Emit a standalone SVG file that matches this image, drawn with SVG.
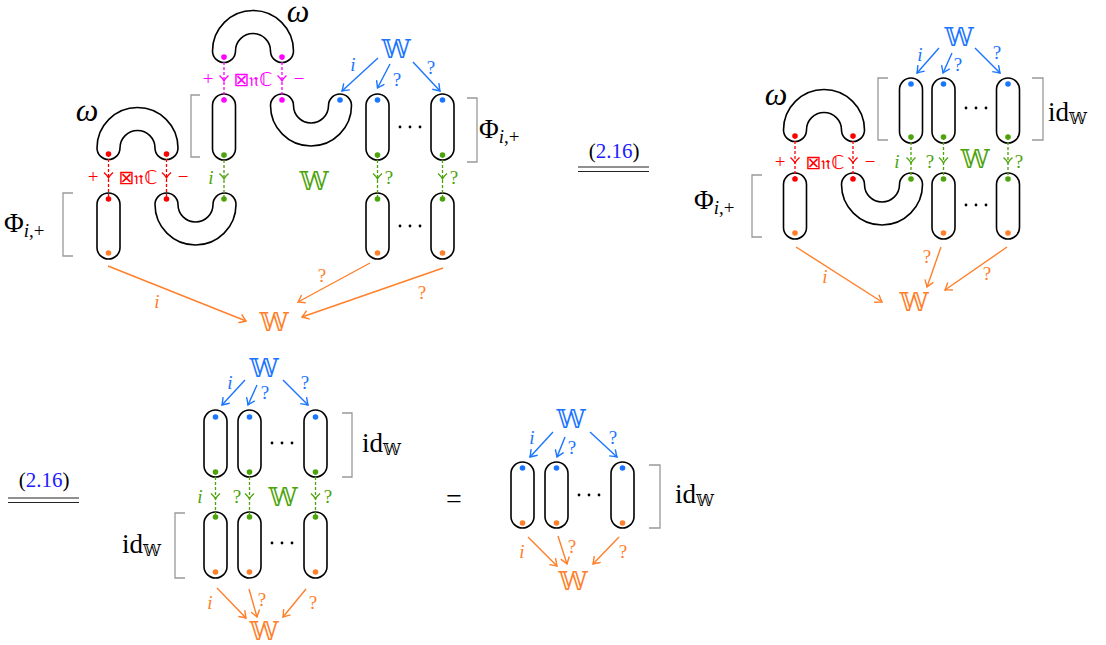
<svg xmlns="http://www.w3.org/2000/svg" width="1106" height="645" viewBox="0 0 1106 645">
<style>
.p{fill:none;stroke:#000;stroke-width:1.6}
.br{fill:none;stroke:#999;stroke-width:1.3}
.ab{fill:none;stroke:#1a75ff;stroke-width:1.4}
.ao{fill:none;stroke:#ff7f2a;stroke-width:1.4}
.dm{fill:none;stroke:#f0f;stroke-width:1.3;stroke-dasharray:3 2}
.dr{fill:none;stroke:#f00;stroke-width:1.3;stroke-dasharray:3 2}
.dg{fill:none;stroke:#4ca30a;stroke-width:1.3;stroke-dasharray:3 2}
.cm{stroke:#f0f;stroke-width:1.3;fill:none}
.cr{stroke:#f00;stroke-width:1.3;fill:none}
.cg{stroke:#4ca30a;stroke-width:1.3;fill:none}
.kb{fill:#1a75ff}.km{fill:#f0f}.kr{fill:#f00}.kg{fill:#4ca30a}.ko{fill:#ff7f2a}.kk{fill:#000}
.t{font-family:"Liberation Serif","DejaVu Serif",serif}
.it{font-family:"Liberation Serif","DejaVu Serif",serif;font-style:italic}
.bb{font-family:"DejaVu Sans","DejaVu Serif",sans-serif;font-weight:200}
.bx{font-family:"DejaVu Sans","DejaVu Serif",sans-serif;font-weight:normal;font-size:19px;text-anchor:middle}
.s{font-size:19px;text-anchor:middle}
.W{font-size:26px;text-anchor:middle}
.om{font-family:"Liberation Serif","DejaVu Serif",serif;font-style:italic;font-size:32px;text-anchor:middle}
</style>
<defs>
<marker id="mb" viewBox="-8 -5 10 10" refX="0" refY="0" markerWidth="10" markerHeight="10" markerUnits="userSpaceOnUse" orient="auto"><path d="M-6.5-4.5Q-2-1.2 0 0Q-2 1.2-6.5 4.5" fill="none" stroke="#1a75ff" stroke-width="1.4"/></marker>
<marker id="mo" viewBox="-8 -5 10 10" refX="0" refY="0" markerWidth="10" markerHeight="10" markerUnits="userSpaceOnUse" orient="auto"><path d="M-6.5-4.5Q-2-1.2 0 0Q-2 1.2-6.5 4.5" fill="none" stroke="#ff7f2a" stroke-width="1.4"/></marker>
<path id="chev" d="M-4.5-4.5Q-1.2-1.5 0 1Q1.2-1.5 4.5-4.5"/>
</defs>

<!-- ===== Panel 1 ===== -->
<g id="p1-cap-magenta"><path class="p" d="M212.5 51A40.5 40.5 0 0 1 293.5 51A11.5 11.5 0 0 1 270.5 51A17.5 17.5 0 0 0 235.5 51A11.5 11.5 0 0 1 212.5 51Z"/><circle class="km" cx="224" cy="57" r="2.8"/><circle class="km" cx="282" cy="57" r="2.8"/><text class="om" x="298" y="22">ω</text></g>
<g id="p1-cap-red"><path class="p" d="M97 148A40.5 40.5 0 0 1 178 148A11.5 11.5 0 0 1 155 148A17.5 17.5 0 0 0 120 148A11.5 11.5 0 0 1 97 148Z"/><circle class="kr" cx="108.5" cy="154" r="2.8"/><circle class="kr" cx="166.5" cy="154" r="2.8"/><text class="om" x="87" y="121">ω</text></g>
<g id="p1-pill-u1"><rect class="p" x="212.5" y="94" width="23" height="66" rx="11.5"/><circle class="km" cx="224" cy="100" r="2.8"/><circle class="kg" cx="224" cy="155" r="2.8"/></g>
<g id="p1-cup-u"><path class="p" d="M270.5 105.5A40.5 40.5 0 0 0 351.5 105.5A11.5 11.5 0 0 0 328.5 105.5A17.5 17.5 0 0 1 293.5 105.5A11.5 11.5 0 0 0 270.5 105.5Z"/><circle class="km" cx="282" cy="100" r="2.8"/><circle class="kb" cx="340" cy="100" r="2.8"/></g>
<g id="p1-pill-u2"><rect class="p" x="366" y="94" width="23" height="66" rx="11.5"/><circle class="kb" cx="377.5" cy="100" r="2.8"/><circle class="kg" cx="377.5" cy="155" r="2.8"/></g>
<g id="p1-pill-u3"><rect class="p" x="431" y="94" width="23" height="66" rx="11.5"/><circle class="kb" cx="442.5" cy="100" r="2.8"/><circle class="kg" cx="442.5" cy="155" r="2.8"/></g>
<g id="p1-dots-u"><circle class="kk" cx="400" cy="127" r="1.4"/><circle class="kk" cx="410" cy="127" r="1.4"/><circle class="kk" cx="420" cy="127" r="1.4"/></g>
<g id="p1-pill-l1"><rect class="p" x="97" y="193" width="23" height="66" rx="11.5"/><circle class="kr" cx="108.5" cy="199" r="2.8"/><circle class="ko" cx="108.5" cy="253" r="2.8"/></g>
<g id="p1-cup-l"><path class="p" d="M155 204.5A40.5 40.5 0 0 0 236 204.5A11.5 11.5 0 0 0 213 204.5A17.5 17.5 0 0 1 178 204.5A11.5 11.5 0 0 0 155 204.5Z"/><circle class="kr" cx="166.5" cy="199" r="2.8"/><circle class="kg" cx="224" cy="199" r="2.8"/></g>
<g id="p1-pill-l2"><rect class="p" x="366" y="193" width="23" height="66" rx="11.5"/><circle class="kg" cx="377.5" cy="199" r="2.8"/><circle class="ko" cx="377.5" cy="253" r="2.8"/></g>
<g id="p1-pill-l3"><rect class="p" x="431" y="193" width="23" height="66" rx="11.5"/><circle class="kg" cx="442.5" cy="199" r="2.8"/><circle class="ko" cx="442.5" cy="253" r="2.8"/></g>
<g id="p1-dots-l"><circle class="kk" cx="400" cy="226" r="1.4"/><circle class="kk" cx="410" cy="226" r="1.4"/><circle class="kk" cx="420" cy="226" r="1.4"/></g>
<g id="p1-brackets"><path class="br" d="M200 95H191V157H200"/><path class="br" d="M73 193H63V256H73"/><path class="br" d="M467 98H477V162H467"/></g>
<g id="p1-phi-left"><text class="t" x="4" y="232" font-size="27">Φ<tspan class="it" font-size="19" dy="5">i</tspan><tspan font-size="19">,+</tspan></text></g>
<g id="p1-phi-right"><text class="t" x="479" y="138" font-size="27">Φ<tspan class="it" font-size="19" dy="5">i</tspan><tspan font-size="19">,+</tspan></text></g>
<g id="p1-W-blue"><text class="bb W kb" x="396" y="57.5">𝕎</text></g>
<g id="p1-W-green"><text class="bb W kg" x="314" y="189.5">𝕎</text></g>
<g id="p1-W-orange"><text class="bb W ko" x="274" y="331">𝕎</text></g>
<g id="p1-labels">
<text class="t s km" x="208" y="85">+</text><text class="bx km" x="253" y="86">⊠𝔫ℂ</text><text class="t s km" x="299" y="85">−</text>
<text class="t s kr" x="93" y="183">+</text><text class="bx kr" x="138" y="184">⊠𝔫ℂ</text><text class="t s kr" x="183" y="183">−</text>
<text class="it s kg" x="211" y="184">i</text><text class="t s kg" x="389" y="184">?</text><text class="t s kg" x="454" y="184">?</text>
<text class="it s kb" x="353" y="71">i</text><text class="t s kb" x="397" y="86">?</text><text class="t s kb" x="431" y="74">?</text>
<text class="it s ko" x="157" y="308">i</text><text class="t s ko" x="322" y="282">?</text><text class="t s ko" x="422" y="299">?</text>
</g>

<!-- ===== (2.16) top ===== -->
<g id="eq1"><text class="t" x="614" y="158" font-size="21" text-anchor="middle">(<tspan fill="#2020ff">2.16</tspan>)</text><path d="M578 167H649M578 171.5H649" stroke="#222" stroke-width="1.2"/></g>

<!-- ===== Panel 2 ===== -->
<g id="p2-cap"><path class="p" d="M783.5 130A40.5 40.5 0 0 1 864.5 130A11.5 11.5 0 0 1 841.5 130A17.5 17.5 0 0 0 806.5 130A11.5 11.5 0 0 1 783.5 130Z"/><circle class="kr" cx="795" cy="136" r="2.8"/><circle class="kr" cx="853" cy="136" r="2.8"/><text class="om" x="776" y="105">ω</text></g>
<g id="p2-pill-u1"><rect class="p" x="899.5" y="78" width="23" height="65" rx="11.5"/><circle class="kb" cx="911" cy="84" r="2.8"/><circle class="kg" cx="911" cy="137" r="2.8"/></g>
<g id="p2-pill-u2"><rect class="p" x="932" y="78" width="23" height="65" rx="11.5"/><circle class="kb" cx="943.5" cy="84" r="2.8"/><circle class="kg" cx="943.5" cy="137" r="2.8"/></g>
<g id="p2-pill-u3"><rect class="p" x="996.5" y="78" width="23" height="65" rx="11.5"/><circle class="kb" cx="1008" cy="84" r="2.8"/><circle class="kg" cx="1008" cy="137" r="2.8"/></g>
<g id="p2-dots-u"><circle class="kk" cx="966" cy="108" r="1.4"/><circle class="kk" cx="976" cy="108" r="1.4"/><circle class="kk" cx="986" cy="108" r="1.4"/></g>
<g id="p2-pill-l1"><rect class="p" x="783.5" y="173" width="23" height="66" rx="11.5"/><circle class="kr" cx="795" cy="179" r="2.8"/><circle class="ko" cx="795" cy="233" r="2.8"/></g>
<g id="p2-cup"><path class="p" d="M841.5 184.5A40.5 40.5 0 0 0 922.5 184.5A11.5 11.5 0 0 0 899.5 184.5A17.5 17.5 0 0 1 864.5 184.5A11.5 11.5 0 0 0 841.5 184.5Z"/><circle class="kr" cx="853" cy="179" r="2.8"/><circle class="kg" cx="911" cy="179" r="2.8"/></g>
<g id="p2-pill-l2"><rect class="p" x="932" y="173" width="23" height="66" rx="11.5"/><circle class="kg" cx="943.5" cy="179" r="2.8"/><circle class="ko" cx="943.5" cy="233" r="2.8"/></g>
<g id="p2-pill-l3"><rect class="p" x="996.5" y="173" width="23" height="66" rx="11.5"/><circle class="kg" cx="1008" cy="179" r="2.8"/><circle class="ko" cx="1008" cy="233" r="2.8"/></g>
<g id="p2-dots-l"><circle class="kk" cx="966" cy="205" r="1.4"/><circle class="kk" cx="976" cy="205" r="1.4"/><circle class="kk" cx="986" cy="205" r="1.4"/></g>
<g id="p2-brackets"><path class="br" d="M888 78H878V140H888"/><path class="br" d="M1032 78H1043V140H1032"/><path class="br" d="M762 175H752V237H762"/></g>
<g id="p2-idW"><text class="t" x="1048" y="121" font-size="27">id<tspan class="bb" font-size="16" dy="3">𝕎</tspan></text></g>
<g id="p2-phi"><text class="t" x="694" y="209" font-size="27">Φ<tspan class="it" font-size="19" dy="5">i</tspan><tspan font-size="19">,+</tspan></text></g>
<g id="p2-W-blue"><text class="bb W kb" x="959" y="45.5">𝕎</text></g>
<g id="p2-W-green"><text class="bb W kg" x="975" y="168">𝕎</text></g>
<g id="p2-W-orange"><text class="bb W ko" x="914" y="311">𝕎</text></g>
<g id="p2-labels">
<text class="t s kr" x="780" y="168">+</text><text class="bx kr" x="825" y="169">⊠𝔫ℂ</text><text class="t s kr" x="870" y="168">−</text>
<text class="it s kg" x="897" y="168">i</text><text class="t s kg" x="930" y="168">?</text><text class="t s kg" x="1019" y="168">?</text>
<text class="it s kb" x="920" y="61">i</text><text class="t s kb" x="958" y="71">?</text><text class="t s kb" x="997" y="59">?</text>
<text class="it s ko" x="825" y="283">i</text><text class="t s ko" x="927" y="263">?</text><text class="t s ko" x="987" y="280">?</text>
</g>

<!-- ===== (2.16) bottom ===== -->
<g id="eq2"><text class="t" x="44" y="487" font-size="21" text-anchor="middle">(<tspan fill="#2020ff">2.16</tspan>)</text><path d="M8 498H79M8 502.5H79" stroke="#222" stroke-width="1.2"/></g>

<!-- ===== Panel 3 ===== -->
<g id="p3-pill-u1"><rect class="p" x="204" y="410" width="23" height="67" rx="11.5"/><circle class="kb" cx="215.5" cy="417" r="2.8"/><circle class="kg" cx="215.5" cy="472" r="2.8"/></g>
<g id="p3-pill-u2"><rect class="p" x="238" y="410" width="23" height="67" rx="11.5"/><circle class="kb" cx="249.5" cy="417" r="2.8"/><circle class="kg" cx="249.5" cy="472" r="2.8"/></g>
<g id="p3-pill-u3"><rect class="p" x="304" y="410" width="23" height="67" rx="11.5"/><circle class="kb" cx="315.5" cy="417" r="2.8"/><circle class="kg" cx="315.5" cy="472" r="2.8"/></g>
<g id="p3-dots-u"><circle class="kk" cx="272" cy="443" r="1.4"/><circle class="kk" cx="282" cy="443" r="1.4"/><circle class="kk" cx="292" cy="443" r="1.4"/></g>
<g id="p3-pill-l1"><rect class="p" x="204" y="512" width="23" height="66" rx="11.5"/><circle class="kg" cx="215.5" cy="517" r="2.8"/><circle class="ko" cx="215.5" cy="572" r="2.8"/></g>
<g id="p3-pill-l2"><rect class="p" x="238" y="512" width="23" height="66" rx="11.5"/><circle class="kg" cx="249.5" cy="517" r="2.8"/><circle class="ko" cx="249.5" cy="572" r="2.8"/></g>
<g id="p3-pill-l3"><rect class="p" x="304" y="512" width="23" height="66" rx="11.5"/><circle class="kg" cx="315.5" cy="517" r="2.8"/><circle class="ko" cx="315.5" cy="572" r="2.8"/></g>
<g id="p3-dots-l"><circle class="kk" cx="272" cy="543" r="1.4"/><circle class="kk" cx="282" cy="543" r="1.4"/><circle class="kk" cx="292" cy="543" r="1.4"/></g>
<g id="p3-brackets"><path class="br" d="M342 413H352V477H342"/><path class="br" d="M185 513H175V578H185"/></g>
<g id="p3-idW-u"><text class="t" x="362" y="452" font-size="27">id<tspan class="bb" font-size="16" dy="3">𝕎</tspan></text></g>
<g id="p3-idW-l"><text class="t" x="122" y="553" font-size="27">id<tspan class="bb" font-size="16" dy="3">𝕎</tspan></text></g>
<g id="p3-W-blue"><text class="bb W kb" x="264" y="376.5">𝕎</text></g>
<g id="p3-W-green"><text class="bb W kg" x="283" y="505.5">𝕎</text></g>
<g id="p3-W-orange"><text class="bb W ko" x="264" y="640">𝕎</text></g>
<g id="p3-labels">
<text class="it s kb" x="230" y="389">i</text><text class="t s kb" x="265" y="399">?</text><text class="t s kb" x="305" y="389">?</text>
<text class="it s kg" x="200" y="503">i</text><text class="t s kg" x="237" y="503">?</text><text class="t s kg" x="328" y="503">?</text>
<text class="it s ko" x="210" y="609">i</text><text class="t s ko" x="262" y="606">?</text><text class="t s ko" x="313" y="609">?</text>
</g>

<!-- ===== Panel 4 ===== -->
<g id="p4-eq"><text class="t" x="454" y="508" font-size="28" text-anchor="middle">=</text></g>
<g id="p4-pill-1"><rect class="p" x="511" y="462" width="23" height="66" rx="11.5"/><circle class="kb" cx="522.5" cy="468" r="2.8"/><circle class="ko" cx="522.5" cy="523" r="2.8"/></g>
<g id="p4-pill-2"><rect class="p" x="545" y="462" width="23" height="66" rx="11.5"/><circle class="kb" cx="556.5" cy="468" r="2.8"/><circle class="ko" cx="556.5" cy="523" r="2.8"/></g>
<g id="p4-pill-3"><rect class="p" x="611" y="462" width="23" height="66" rx="11.5"/><circle class="kb" cx="622.5" cy="468" r="2.8"/><circle class="ko" cx="622.5" cy="523" r="2.8"/></g>
<g id="p4-dots"><circle class="kk" cx="579" cy="495" r="1.4"/><circle class="kk" cx="589" cy="495" r="1.4"/><circle class="kk" cx="599" cy="495" r="1.4"/></g>
<g id="p4-bracket"><path class="br" d="M649 465H660V528H649"/></g>
<g id="p4-idW"><text class="t" x="675" y="503" font-size="27">id<tspan class="bb" font-size="16" dy="3">𝕎</tspan></text></g>
<g id="p4-W-blue"><text class="bb W kb" x="571" y="427.5">𝕎</text></g>
<g id="p4-W-orange"><text class="bb W ko" x="573" y="589.5">𝕎</text></g>
<g id="p4-labels">
<text class="it s kb" x="532" y="444">i</text><text class="t s kb" x="572" y="454">?</text><text class="t s kb" x="613" y="444">?</text>
<text class="it s ko" x="522" y="558">i</text><text class="t s ko" x="572" y="553">?</text><text class="t s ko" x="623" y="558">?</text>
</g>

<!-- ===== Connectors ===== -->
<g id="connectors">
<path class="dm" d="M224 57V100M282 57V100"/>
<use href="#chev" class="cm" x="224" y="80"/><use href="#chev" class="cm" x="282" y="80"/>
<path class="dr" d="M108.5 154V199M166.5 154V199"/>
<use href="#chev" class="cr" x="108.5" y="177"/><use href="#chev" class="cr" x="166.5" y="177"/>
<path class="dg" d="M224 155V199M377.5 155V199M442.5 155V199"/>
<use href="#chev" class="cg" x="224" y="178"/><use href="#chev" class="cg" x="377.5" y="178"/><use href="#chev" class="cg" x="442.5" y="178"/>
<path class="ab" marker-end="url(#mb)" d="M378 58L342 91"/>
<path class="ab" marker-end="url(#mb)" d="M390 64L377.5 88"/>
<path class="ab" marker-end="url(#mb)" d="M413 62L440 91"/>
<path class="ao" marker-end="url(#mo)" d="M108 266L246 321"/>
<path class="ao" marker-end="url(#mo)" d="M370 263L298 302"/>
<path class="ao" marker-end="url(#mo)" d="M443 268L302 317"/>

<path class="dr" d="M795 136V179M853 136V179"/>
<use href="#chev" class="cr" x="795" y="162"/><use href="#chev" class="cr" x="853" y="162"/>
<path class="dg" d="M911 137V179M943.5 137V179M1008 137V179"/>
<use href="#chev" class="cg" x="911" y="162"/><use href="#chev" class="cg" x="943.5" y="162"/><use href="#chev" class="cg" x="1008" y="162"/>
<path class="ab" marker-end="url(#mb)" d="M939 48L917 73"/>
<path class="ab" marker-end="url(#mb)" d="M952 53L943 73"/>
<path class="ab" marker-end="url(#mb)" d="M975 48L1000 73"/>
<path class="ao" marker-end="url(#mo)" d="M796 247L882 302"/>
<path class="ao" marker-end="url(#mo)" d="M941 247L927 287"/>
<path class="ao" marker-end="url(#mo)" d="M1007 247L945 290"/>

<path class="dg" d="M215.5 472V517M249.5 472V517M315.5 472V517"/>
<use href="#chev" class="cg" x="215.5" y="498"/><use href="#chev" class="cg" x="249.5" y="498"/><use href="#chev" class="cg" x="315.5" y="498"/>
<path class="ab" marker-end="url(#mb)" d="M245 380L222 405"/>
<path class="ab" marker-end="url(#mb)" d="M257 385L248 405"/>
<path class="ab" marker-end="url(#mb)" d="M283 380L308 405"/>
<path class="ao" marker-end="url(#mo)" d="M217 588L246 618"/>
<path class="ao" marker-end="url(#mo)" d="M249 589L257 617"/>
<path class="ao" marker-end="url(#mo)" d="M306 589L283 617"/>

<path class="ab" marker-end="url(#mb)" d="M553 432L530 457"/>
<path class="ab" marker-end="url(#mb)" d="M565 437L557 457"/>
<path class="ab" marker-end="url(#mb)" d="M590 432L617 457"/>
<path class="ao" marker-end="url(#mo)" d="M528 537L557 566"/>
<path class="ao" marker-end="url(#mo)" d="M558 536L567 564"/>
<path class="ao" marker-end="url(#mo)" d="M619 537L593 564"/>
</g>
</svg>
